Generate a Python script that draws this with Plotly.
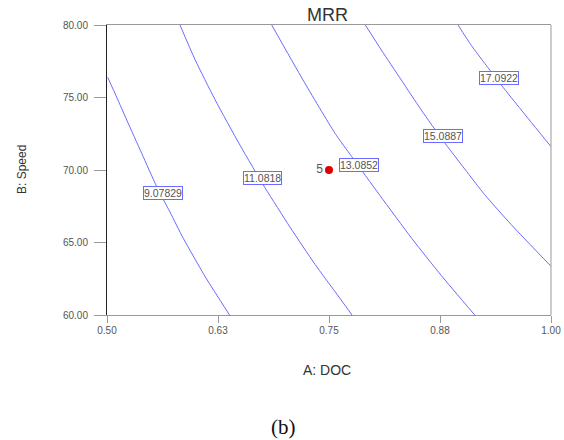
import plotly.graph_objects as go

# Contour levels and their traced paths (A: DOC, B: Speed)
levels = ["9.07829", "11.0818", "13.0852", "15.0887", "17.0922"]

c1_x = [0.5008, 0.5113, 0.5222, 0.5391, 0.5560, 0.5709, 0.5859, 0.6115, 0.6380]
c1_y = [76.39, 74.97, 73.45, 71.15, 68.85, 67.10, 65.29, 62.55, 60.00]

c2_x = [0.5822, 0.5991, 0.6216, 0.6498, 0.6779, 0.7061, 0.7342, 0.7568, 0.7759]
c2_y = [80.00, 77.62, 74.86, 71.71, 68.78, 66.06, 63.50, 61.61, 60.00]

c3_x = [0.6855, 0.7207, 0.7568, 0.7756, 0.8074, 0.8431, 0.8765, 0.9141]
c3_y = [80.00, 76.21, 72.53, 70.92, 68.24, 65.29, 62.72, 60.00]

c4_x = [0.7909, 0.8089, 0.8314, 0.8539, 0.8784, 0.9028, 0.9253, 0.9553, 1.0000]
c4_y = [80.00, 78.28, 76.21, 74.14, 72.03, 70.07, 68.30, 66.23, 63.36]

c5_x = [0.8953, 0.9103, 0.9253, 0.9440, 0.9665, 1.0000]
c5_y = [80.00, 78.59, 77.36, 75.86, 74.14, 71.61]

# Contour label positions
label_x = [0.5627, 0.6748, 0.7841, 0.8784, 0.9418]
label_y = [68.39, 69.43, 70.32, 72.33, 76.34]

# Design point
pt_x = [0.75]
pt_y = [70.0]
pt_label = ["5"]

x_ticks = [0.5, 0.625, 0.75, 0.875, 1.0]
x_ticktext = ["0.50", "0.63", "0.75", "0.88", "1.00"]
y_ticks = [60, 65, 70, 75, 80]
y_ticktext = ["60.00", "65.00", "70.00", "75.00", "80.00"]

BLUE = "#6b6bff"
fig = go.Figure()
for xs, ys in [(c1_x, c1_y), (c2_x, c2_y), (c3_x, c3_y), (c4_x, c4_y), (c5_x, c5_y)]:
    fig.add_trace(go.Scatter(x=xs, y=ys, mode="lines",
                             line=dict(color=BLUE, width=1, shape="spline", smoothing=0.6),
                             hoverinfo="skip", showlegend=False))

fig.add_trace(go.Scatter(x=pt_x, y=pt_y, mode="markers+text", text=pt_label, textposition="middle left",
                         textfont=dict(family="Liberation Sans", size=12, color="#555"),
                         marker=dict(color="#e00000", size=8, symbol="circle"), showlegend=False))

for lx, ly, lt in zip(label_x, label_y, levels):
    fig.add_annotation(x=lx, y=ly, text=lt, showarrow=False,
                       font=dict(family="Liberation Sans", size=10.5, color="#555"),
                       bgcolor="white", bordercolor=BLUE, borderwidth=1, borderpad=0)

fig.update_layout(
    width=564, height=440,
    margin=dict(l=107, r=13, t=25, b=125, autoexpand=False),
    plot_bgcolor="white", paper_bgcolor="white",
    font=dict(family="Liberation Sans"),
)
fig.update_xaxes(range=[0.5, 1.0], tickvals=x_ticks, ticktext=x_ticktext, automargin=False,
                 showgrid=False, zeroline=False, showline=True, linecolor="#999", linewidth=1, mirror=True,
                 ticks="outside", ticklen=7, tickcolor="#999", ticklabelstandoff=-1,
                 tickfont=dict(size=10, color="#555"))
fig.update_yaxes(range=[60, 80], tickvals=y_ticks, ticktext=y_ticktext, automargin=False,
                 showgrid=False, zeroline=False, showline=True, linecolor="#222", linewidth=1,
                 ticks="outside", ticklen=12, tickcolor="#999", ticklabelstandoff=4,
                 tickfont=dict(size=10, color="#555"))
fig.add_shape(type="line", xref="paper", yref="paper", x0=1, x1=1, y0=0, y1=1,
              line=dict(color="#999", width=1))
# titles
fig.add_annotation(xref="paper", yref="paper", x=0.4955, y=1.0, yshift=10, yanchor="middle", xanchor="center",
                   text="MRR", showarrow=False,
                   font=dict(family="Liberation Sans", size=18, color="#333"))
fig.add_annotation(xref="paper", yref="paper", x=0.495, y=0, yshift=-55, yanchor="middle", xanchor="center",
                   text="A: DOC", showarrow=False,
                   font=dict(family="Liberation Sans", size=14, color="#333"))
fig.add_annotation(xref="paper", yref="paper", x=0, xshift=-85, xanchor="center", y=0.5, yanchor="middle",
                   text="B: Speed", textangle=-90,
                   showarrow=False, font=dict(family="Liberation Sans", size=12, color="#333"))
fig.add_annotation(xref="paper", yref="paper", x=0.397, xanchor="center", y=0, yshift=-112, yanchor="middle",
                   text="(b)", showarrow=False,
                   font=dict(family="Liberation Serif", size=21, color="#111"))

# remove the default page margin so the 564x440 figure fills the window exactly
fig.write_html("out.html", config={"displayModeBar": False},
               post_script="document.body.style.margin='0px';")
